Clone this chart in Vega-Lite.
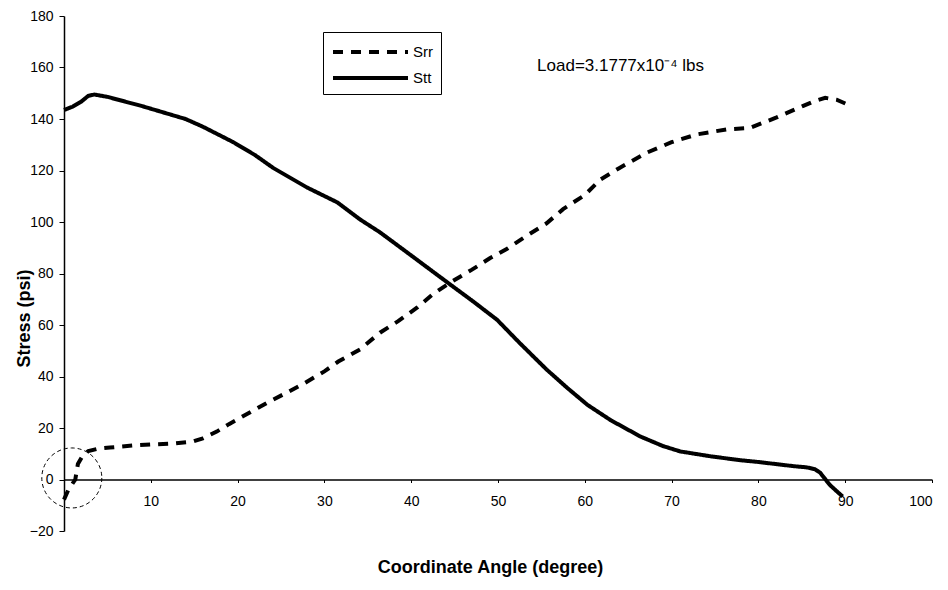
{
  "$schema": "https://vega.github.io/schema/vega-lite/v6.json",
  "width": 868,
  "height": 515,
  "autosize": "none",
  "padding": {"left": 64, "top": 16, "right": 16, "bottom": 59},
  "background": "white",
  "config": {
    "view": {"stroke": null},
    "font": "Liberation Sans",
    "axis": {"grid": false, "domainColor": "black", "tickColor": "black", "labelColor": "black", "titleColor": "black", "labelFont": "Liberation Sans", "titleFont": "Liberation Sans", "labelFontSize": 14, "titleFontSize": 18, "titleFontWeight": "bold", "domainWidth": 1.5, "tickWidth": 1}
  },
  "datasets": {
    "curves": [
      {"angle": 0, "stress": 143.5, "series": "Stt"},
      {"angle": 1, "stress": 144.8, "series": "Stt"},
      {"angle": 2, "stress": 146.8, "series": "Stt"},
      {"angle": 2.8, "stress": 149, "series": "Stt"},
      {"angle": 3.5, "stress": 149.5, "series": "Stt"},
      {"angle": 5, "stress": 148.6, "series": "Stt"},
      {"angle": 7, "stress": 146.8, "series": "Stt"},
      {"angle": 9, "stress": 145, "series": "Stt"},
      {"angle": 11, "stress": 143, "series": "Stt"},
      {"angle": 14, "stress": 140, "series": "Stt"},
      {"angle": 16, "stress": 137, "series": "Stt"},
      {"angle": 19.5, "stress": 131, "series": "Stt"},
      {"angle": 22, "stress": 126, "series": "Stt"},
      {"angle": 24.1, "stress": 121, "series": "Stt"},
      {"angle": 28, "stress": 113.4, "series": "Stt"},
      {"angle": 31.5, "stress": 107.6, "series": "Stt"},
      {"angle": 34.1, "stress": 101, "series": "Stt"},
      {"angle": 36.4, "stress": 96, "series": "Stt"},
      {"angle": 40, "stress": 87, "series": "Stt"},
      {"angle": 44.5, "stress": 75.7, "series": "Stt"},
      {"angle": 47, "stress": 69.5, "series": "Stt"},
      {"angle": 49.9, "stress": 62, "series": "Stt"},
      {"angle": 52.5, "stress": 53, "series": "Stt"},
      {"angle": 55.6, "stress": 42.7, "series": "Stt"},
      {"angle": 58, "stress": 35.5, "series": "Stt"},
      {"angle": 60.3, "stress": 29, "series": "Stt"},
      {"angle": 63, "stress": 23, "series": "Stt"},
      {"angle": 66.4, "stress": 16.7, "series": "Stt"},
      {"angle": 69, "stress": 13, "series": "Stt"},
      {"angle": 71, "stress": 10.9, "series": "Stt"},
      {"angle": 74.5, "stress": 9, "series": "Stt"},
      {"angle": 77.9, "stress": 7.5, "series": "Stt"},
      {"angle": 80, "stress": 6.8, "series": "Stt"},
      {"angle": 82, "stress": 6, "series": "Stt"},
      {"angle": 84, "stress": 5.2, "series": "Stt"},
      {"angle": 85.6, "stress": 4.7, "series": "Stt"},
      {"angle": 86.5, "stress": 4, "series": "Stt"},
      {"angle": 87.1, "stress": 2.7, "series": "Stt"},
      {"angle": 88.2, "stress": -2, "series": "Stt"},
      {"angle": 89, "stress": -4.5, "series": "Stt"},
      {"angle": 89.7, "stress": -6.6, "series": "Stt"},
      {"angle": 0, "stress": -7.8, "series": "Srr"},
      {"angle": 0.5, "stress": -4, "series": "Srr"},
      {"angle": 1.3, "stress": 0, "series": "Srr"},
      {"angle": 1.6, "stress": 6, "series": "Srr"},
      {"angle": 2.2, "stress": 9.5, "series": "Srr"},
      {"angle": 2.8, "stress": 11, "series": "Srr"},
      {"angle": 4, "stress": 12, "series": "Srr"},
      {"angle": 5.3, "stress": 12.4, "series": "Srr"},
      {"angle": 7.9, "stress": 13.2, "series": "Srr"},
      {"angle": 10, "stress": 13.6, "series": "Srr"},
      {"angle": 12.6, "stress": 14, "series": "Srr"},
      {"angle": 14.9, "stress": 14.8, "series": "Srr"},
      {"angle": 16, "stress": 16, "series": "Srr"},
      {"angle": 17.6, "stress": 18.6, "series": "Srr"},
      {"angle": 19, "stress": 21.5, "series": "Srr"},
      {"angle": 21.4, "stress": 26, "series": "Srr"},
      {"angle": 23.5, "stress": 30, "series": "Srr"},
      {"angle": 25.7, "stress": 33.8, "series": "Srr"},
      {"angle": 27.8, "stress": 37.6, "series": "Srr"},
      {"angle": 30, "stress": 42, "series": "Srr"},
      {"angle": 31.6, "stress": 45.8, "series": "Srr"},
      {"angle": 34.1, "stress": 50.5, "series": "Srr"},
      {"angle": 36.4, "stress": 57, "series": "Srr"},
      {"angle": 38.5, "stress": 61.5, "series": "Srr"},
      {"angle": 40.7, "stress": 66.8, "series": "Srr"},
      {"angle": 42.5, "stress": 72, "series": "Srr"},
      {"angle": 44.5, "stress": 76.5, "series": "Srr"},
      {"angle": 47, "stress": 81.5, "series": "Srr"},
      {"angle": 49.1, "stress": 86, "series": "Srr"},
      {"angle": 51, "stress": 89.5, "series": "Srr"},
      {"angle": 53, "stress": 94, "series": "Srr"},
      {"angle": 55.6, "stress": 99.5, "series": "Srr"},
      {"angle": 57.5, "stress": 105, "series": "Srr"},
      {"angle": 60, "stress": 110.5, "series": "Srr"},
      {"angle": 61.8, "stress": 116.5, "series": "Srr"},
      {"angle": 64, "stress": 121, "series": "Srr"},
      {"angle": 67.2, "stress": 127, "series": "Srr"},
      {"angle": 70, "stress": 131, "series": "Srr"},
      {"angle": 72.9, "stress": 134, "series": "Srr"},
      {"angle": 76.4, "stress": 136, "series": "Srr"},
      {"angle": 79, "stress": 136.5, "series": "Srr"},
      {"angle": 80.5, "stress": 138.5, "series": "Srr"},
      {"angle": 82.1, "stress": 140.6, "series": "Srr"},
      {"angle": 85.1, "stress": 145, "series": "Srr"},
      {"angle": 86.5, "stress": 147, "series": "Srr"},
      {"angle": 87.7, "stress": 148.2, "series": "Srr"},
      {"angle": 89, "stress": 147.5, "series": "Srr"},
      {"angle": 90.3, "stress": 145.6, "series": "Srr"}
    ],
    "notes": [
      {"angle": 54.5, "stress": 160.5, "label": "Load=3.1777x10⁻⁴ lbs"}
    ],
    "marker": [
      {"angle": 0.9, "stress": 0.6}
    ]
  },
  "layer": [
    {
      "data": {"name": "curves"},
      "mark": {"type": "line", "color": "black", "strokeWidth": 4, "clip": false},
      "encoding": {
        "x": {"field": "angle", "type": "quantitative", "scale": {"domain": [0, 100], "nice": false},
          "axis": {"title": "Coordinate Angle (degree)", "values": [10, 20, 30, 40, 50, 60, 70, 80, 90, 100], "offset": -51.5, "tickSize": 3, "labelPadding": 12, "titleX": 426, "titleY": 88, "titleBaseline": "middle"}},
        "y": {"field": "stress", "type": "quantitative", "scale": {"domain": [-20, 180], "nice": false},
          "axis": {"title": "Stress (psi)", "values": [-20, 0, 20, 40, 60, 80, 100, 120, 140, 160, 180], "tickSize": 5, "labelPadding": 6, "titleX": -40, "titleY": 302, "titleAngle": -90, "titleAlign": "center", "titleBaseline": "middle"}},
        "strokeDash": {"field": "series", "type": "nominal",
          "scale": {"domain": ["Srr", "Stt"], "range": [[10, 8], [1, 0]]},
          "legend": {"title": null, "orient": "none", "legendX": 259, "legendY": 16, "strokeColor": "black", "fillColor": "white", "padding": 8,
            "symbolType": "M-1,0H6.5", "symbolSize": 400, "symbolStrokeWidth": 4, "symbolStrokeColor": "black",
            "labelFont": "Liberation Sans", "labelFontSize": 15, "labelColor": "black", "labelOffset": 58, "rowPadding": 6}}
      }
    },
    {
      "data": {"name": "marker"},
      "mark": {"type": "point", "shape": "circle", "filled": false, "size": 3600, "color": "black", "strokeWidth": 1, "strokeDash": [4, 3], "opacity": 1},
      "encoding": {
        "x": {"field": "angle", "type": "quantitative"},
        "y": {"field": "stress", "type": "quantitative"}
      }
    },
    {
      "data": {"name": "notes"},
      "mark": {"type": "text", "align": "left", "baseline": "middle", "fontSize": 17, "font": "Liberation Sans", "color": "black"},
      "encoding": {
        "x": {"field": "angle", "type": "quantitative"},
        "y": {"field": "stress", "type": "quantitative"},
        "text": {"field": "label"}
      }
    }
  ]
}
